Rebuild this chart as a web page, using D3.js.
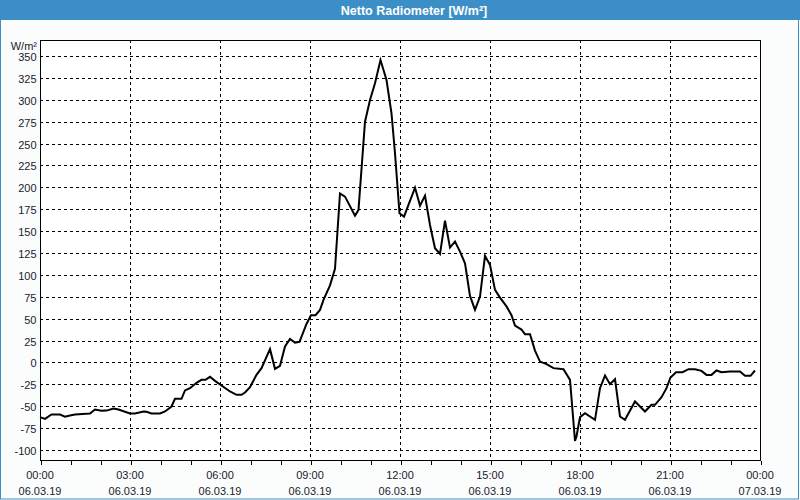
<!DOCTYPE html>
<html>
<head>
<meta charset="utf-8">
<script src="https://cdn.jsdelivr.net/npm/d3@7"></script>
<style>
  html, body { margin: 0; padding: 0; background: #fff; }
  svg { display: block; }
</style>
</head>
<body>
<svg id="chart" width="800" height="500"></svg>
<script>
// ---- Data ----
const title = "Netto Radiometer [W/m²]";
const unitLabel = "W/m²";
// minutes after 06.03.19 00:00
const times = [0,10,23,40,50,60,70,100,110,123,133,147,157,180,190,207,213,223,240,250,263,270,283,290,300,313,323,331,340,350,380,393,403,410,420,433,443,460,470,480,490,500,510,519,533,542,551,560,567,580,590,600,610,630,637,650,660,670,681,693,703,710,719,728,750,760,770,780,790,800,810,820,830,840,850,860,870,880,890,900,910,920,933,943,950,963,970,980,990,1000,1013,1027,1047,1060,1070,1073,1080,1090,1110,1120,1130,1140,1150,1160,1170,1190,1210,1223,1230,1243,1253,1261,1272,1285,1297,1310,1323,1333,1343,1353,1363,1380,1400,1410,1421,1430];
const values = [-62.5,-64.4,-59.5,-59.5,-62,-60.6,-59.5,-58.3,-53.7,-55.2,-55,-52.6,-53.7,-58.3,-58.3,-56,-56.4,-58.3,-58.3,-56,-50.3,-41.6,-41.6,-32,-29.4,-23.3,-19.9,-19.9,-16.4,-21,-33.2,-37,-37,-34.3,-28.2,-14.2,-6.5,15.2,-7.3,-3.9,18.2,26.9,22.7,23.6,44,54,54,60,71.5,88,107,193,189.4,167.7,174.2,275,299.8,318.8,345.4,322.6,284.6,238.9,170.4,166.6,199.7,179.1,190.5,157,130.5,124,162,131.2,138,126.6,113.3,76,60,75.2,121.7,111.4,82.9,74,64,54,42,37.5,32.3,32.3,13.5,1,-2,-6.5,-7.7,-19.9,-89.5,-84.6,-62.5,-57.9,-65.5,-29.4,-14.9,-24.8,-19.1,-61.7,-65.5,-44.6,-56,-48.4,-48.4,-39.6,-29.4,-17.2,-11.1,-11.1,-7.7,-7.7,-9.6,-14.2,-14.2,-9.2,-11.1,-10.4,-10.4,-15.3,-15.3,-9.2];
const yTicks = [-100,-75,-50,-25,0,25,50,75,100,125,150,175,200,225,250,275,300,325,350];
const startDate = new Date(2019, 2, 6, 0, 0);
const endDate = new Date(2019, 2, 7, 0, 0);

// ---- Layout ----
const W = 800, H = 500;
const plot = { left: 40, right: 760, top: 40, bottom: 460 };
const svg = d3.select("#chart");

const x = d3.scaleTime().domain([startDate, endDate]).range([plot.left, plot.right]);
const y = d3.scaleLinear().domain([-100, 350]).range([450, 56]);
const dateAt = m => new Date(startDate.getTime() + m * 60000);

// background
svg.append("rect").attr("x", 0).attr("y", 0).attr("width", W).attr("height", H).attr("fill", "#fbfdfc");
// outer blue frame
svg.append("rect").attr("x", 0.5).attr("y", 0.5).attr("width", 798).attr("height", 498.5)
  .attr("fill", "none").attr("stroke", "#3c8fc6").attr("stroke-width", 1);
// title bar
svg.append("rect").attr("x", 0).attr("y", 0).attr("width", W).attr("height", 20).attr("fill", "#3c8fc6");
svg.append("text").attr("x", 414).attr("y", 14.5).attr("text-anchor", "middle")
  .attr("fill", "#ffffff").attr("font-family", "Liberation Sans, Arial, sans-serif")
  .attr("font-weight", "bold").attr("font-size", "12.5px").text(title);

// plot area
svg.append("rect").attr("x", plot.left).attr("y", plot.top)
  .attr("width", plot.right - plot.left).attr("height", plot.bottom - plot.top).attr("fill", "#ffffff");

const grid = svg.append("g").attr("stroke", "#000").attr("stroke-width", 1)
  .attr("stroke-dasharray", "3,3").attr("shape-rendering", "crispEdges");
// horizontal grid
grid.selectAll("line.h").data(yTicks).join("line")
  .attr("x1", plot.left).attr("x2", plot.right)
  .attr("y1", d => Math.round(y(d)) + 0.5).attr("y2", d => Math.round(y(d)) + 0.5);
// vertical grid (every 3 h, inner)
const majorTicks = d3.timeHour.every(3).range(startDate, new Date(endDate.getTime() + 1));
grid.selectAll("line.v").data(majorTicks.filter(d => +d !== +startDate && +d !== +endDate)).join("line")
  .attr("x1", d => Math.round(x(d)) + 0.5).attr("x2", d => Math.round(x(d)) + 0.5)
  .attr("y1", plot.top).attr("y2", plot.bottom);

// frame
svg.append("rect").attr("x", plot.left + 0.5).attr("y", plot.top + 0.5)
  .attr("width", plot.right - plot.left).attr("height", plot.bottom - plot.top)
  .attr("fill", "none").attr("stroke", "#000").attr("stroke-width", 1).attr("shape-rendering", "crispEdges");

// x axis ticks (hourly) and labels (every 3 h)
const xAxis = d3.axisBottom(x).ticks(d3.timeHour.every(1)).tickSize(4).tickFormat("");
const gx = svg.append("g").attr("transform", `translate(0.5,${plot.bottom + 0.5})`).call(xAxis);
gx.select(".domain").remove();
gx.selectAll(".tick line").attr("stroke", "#000").attr("shape-rendering", "crispEdges");

const fmtT = d3.timeFormat("%H:%M"), fmtD = d3.timeFormat("%d.%m.%y");
const lab = svg.append("g").attr("font-family", "Liberation Sans, Arial, sans-serif")
  .attr("font-size", "11px").attr("fill", "#1a1a2e").attr("text-anchor", "middle");
lab.selectAll("text.t").data(majorTicks).join("text")
  .attr("x", d => x(d)).attr("y", 478.5).text(d => fmtT(d));
lab.selectAll("text.d").data(majorTicks).join("text")
  .attr("x", d => x(d)).attr("y", 494.5).text(d => fmtD(d));

// y labels
const yl = svg.append("g").attr("font-family", "Liberation Sans, Arial, sans-serif")
  .attr("font-size", "11px").attr("fill", "#1a1a2e").attr("text-anchor", "end");
yl.selectAll("text").data(yTicks).join("text")
  .attr("x", 36.5).attr("y", d => y(d) + 5).text(d => d);
yl.append("text").attr("x", 37).attr("y", 50).text(unitLabel);

// data line
const line = d3.line().x((d, i) => x(dateAt(times[i]))).y(d => y(d));
svg.append("path").datum(values).attr("d", line)
  .attr("fill", "none").attr("stroke", "#000").attr("stroke-width", 2).attr("stroke-linejoin", "miter");
</script>
</body>
</html>
